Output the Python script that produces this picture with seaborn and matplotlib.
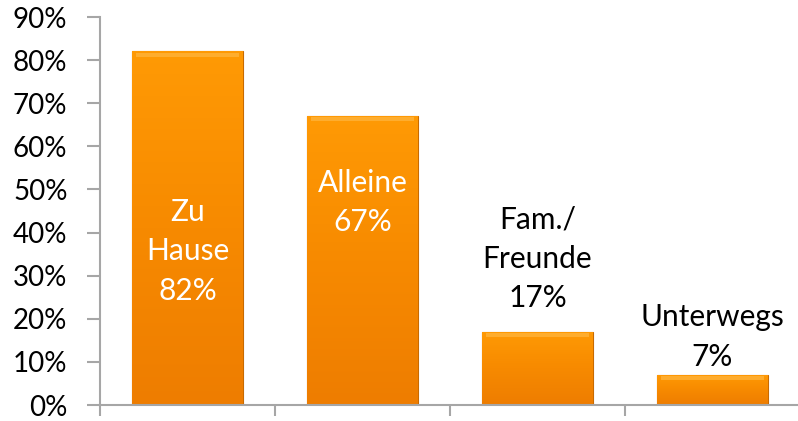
import matplotlib
matplotlib.use("Agg")
import matplotlib.pyplot as plt
import seaborn as sns
import numpy as np
import pandas as pd
from matplotlib.colors import LinearSegmentedColormap

categories = ["Zu Hause", "Alleine", "Fam./ Freunde", "Unterwegs"]
values = [82, 67, 17, 7]
bar_labels = ["Zu\nHause\n82%", "Alleine\n67%", "Fam./\nFreunde\n17%", "Unterwegs\n7%"]
label_y = [35.7, 47, 33.9, 15.8]
label_colors = ["white", "white", "black", "black"]
yticks = list(range(0, 100, 10))
ytick_labels = [f"{t}%" for t in yticks]

sns.set_theme(style="white")
plt.rcParams["font.family"] = ["Lato", "DejaVu Sans"]

fig = plt.figure(figsize=(7.98, 4.21), dpi=100)
ax = fig.add_axes([100 / 798, (421 - 405) / 421, 700 / 798, (405 - 17) / 421])

df = pd.DataFrame({"cat": categories, "val": values})
sns.barplot(data=df, x="cat", y="val", color="#F78B00", width=0.63,
            edgecolor="#C86A00", linewidth=0.8, ax=ax, saturation=1)

# gradient overlay clipped to each bar
cmap = LinearSegmentedColormap.from_list("og", ["#EE7D00", "#F78A00", "#FF9A05"])
grad = np.linspace(0, 1, 256).reshape(-1, 1)
for p in ax.patches:
    x0, y0 = p.get_x(), p.get_y()
    w, h = p.get_width(), p.get_height()
    im = ax.imshow(grad, extent=[x0, x0 + w, y0, y0 + h], origin="lower",
                   cmap=cmap, aspect="auto", zorder=p.get_zorder() + 0.1)
    im.set_clip_path(p)
    # bevel highlight at top
    ax.add_patch(plt.Rectangle((x0 + 0.02, y0 + h - 1.2), w - 0.04, 0.9,
                               color="#FFB640", alpha=0.7, lw=0,
                               zorder=p.get_zorder() + 0.2))

ax.set_xlim(-0.5, 3.5)
ax.set_ylim(0, 90)
ax.set_yticks(yticks)
ax.set_yticklabels(ytick_labels)
ax.set_xticks([-0.5, 0.5, 1.5, 2.5, 3.5])
ax.set_xticklabels([])
ax.set_xlabel("")
ax.set_ylabel("")

for i, (lab, ly, lc) in enumerate(zip(bar_labels, label_y, label_colors)):
    ax.text(i, ly, lab, ha="center", va="center", color=lc, fontsize=21.5,
            linespacing=1.5, zorder=10)

for s in ["top", "right"]:
    ax.spines[s].set_visible(False)
for s in ["left", "bottom"]:
    ax.spines[s].set_color("#A6A6A6")
    ax.spines[s].set_linewidth(1.5)
ax.tick_params(axis="y", length=9.4, width=1.5, color="#A6A6A6", labelsize=20,
               labelcolor="black", pad=14, left=True, direction="out")
ax.tick_params(axis="x", length=8, width=1.5, color="#A6A6A6", bottom=True,
               direction="out")
ax.set_xlim(-0.5, 3.5)

fig.savefig("out.png", dpi=100)
